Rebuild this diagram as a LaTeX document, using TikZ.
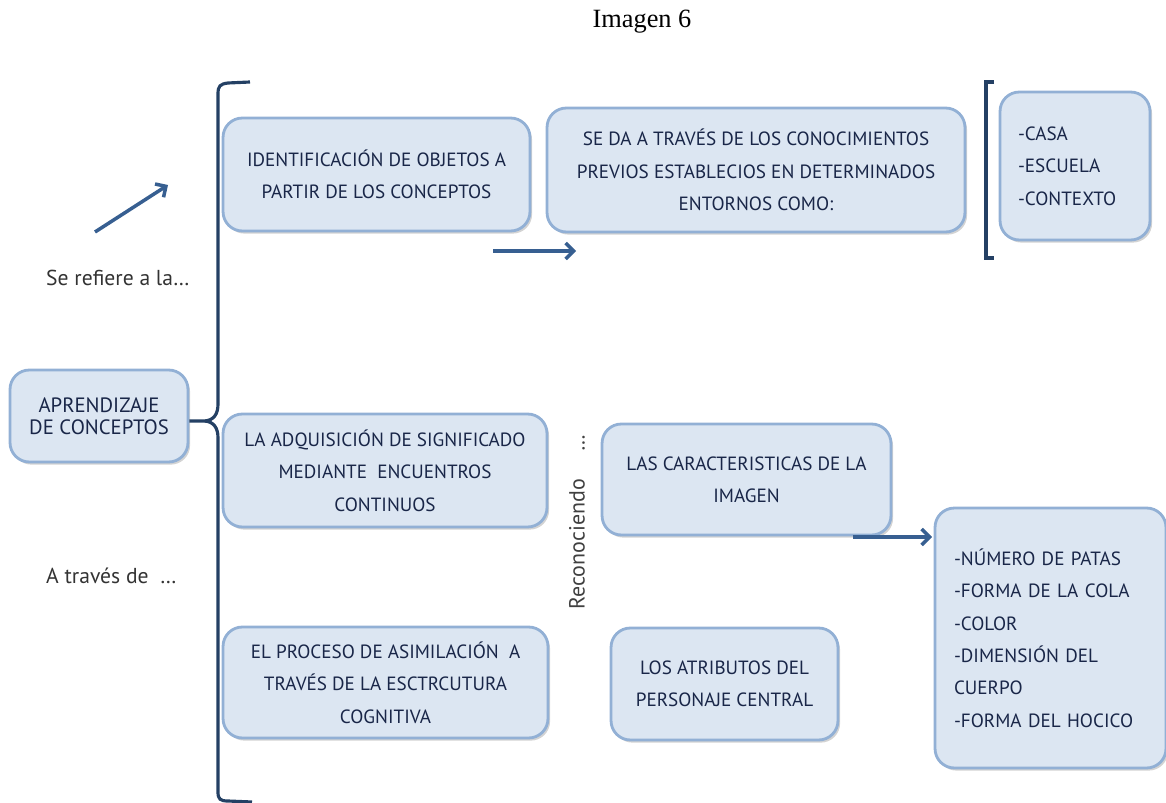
\documentclass[tikz,border=0pt]{standalone}
\usepackage{fontspec}
\usetikzlibrary{shadows,arrows.meta}
\newfontfamily\boxfont{PT Sans}
\newfontfamily\titlefont{Liberation Serif}
\definecolor{boxfill}{RGB}{220,230,242}
\definecolor{boxline}{RGB}{146,176,213}
\definecolor{boxtext}{RGB}{25,38,72}
\definecolor{arrowblue}{RGB}{55,95,145}
\definecolor{bracketblue}{RGB}{36,64,100}

\begin{document}
\begin{tikzpicture}[x=0.02cm, y=-0.02cm,
    concept/.style={draw=boxline, fill=boxfill, line width=1.6pt, rounded corners=11pt,
      align=center, text=boxtext, font=\boxfont\fontsize{10.9}{18.4}\selectfont,
      drop shadow={shadow xshift=1.2pt, shadow yshift=-1.5pt, opacity=0.35}},
    listbox/.style={concept, align=left},
    note/.style={font=\boxfont\fontsize{12.3}{14}\selectfont, text=black!80},
    link/.style={draw=arrowblue, line width=2pt, ->, >={Straight Barb[length=4.5pt, width=9pt, line width=2pt]}},
    bracket/.style={draw=bracketblue, line width=1.8pt}]
        \useasboundingbox (0, 0) rectangle (1166, 803);

        \node[font=\titlefont\fontsize{15}{18}\selectfont] (title) at (642, 22) {Imagen 6};

        \node[concept, minimum width=3.56cm, minimum height=1.84cm, font=\boxfont\fontsize{11.8}{12.5}\selectfont] (aprend) at (99, 416) {APRENDIZAJE\\DE CONCEPTOS};
        \node[concept, minimum width=6.14cm, minimum height=2.26cm] (ident) at (376.5, 174.5) {IDENTIFICACIÓN DE OBJETOS A\\PARTIR DE LOS CONCEPTOS};
        \node[concept, minimum width=8.36cm, minimum height=2.48cm] (seda) at (756, 170) {SE DA A TRAVÉS DE LOS CONOCIMIENTOS\\PREVIOS ESTABLECIOS EN DETERMINADOS\\ENTORNOS COMO:};
        \node[listbox, text width=2.28cm, inner xsep=0.36cm, minimum height=2.96cm] (casa) at (1075, 166) {-CASA\\-ESCUELA\\-CONTEXTO};
        \node[concept, minimum width=6.48cm, minimum height=2.26cm] (adq) at (385, 470.5) {LA ADQUISICIÓN DE SIGNIFICADO\\MEDIANTE \ ENCUENTROS\\CONTINUOS};
        \node[concept, minimum width=6.50cm, minimum height=2.22cm] (proc) at (385.5, 682.5) {EL PROCESO DE ASIMILACIÓN \ A\\TRAVÉS DE LA ESCTRCUTURA\\COGNITIVA};
        \node[concept, minimum width=5.78cm, minimum height=2.22cm] (carac) at (746.5, 479.5) {LAS CARACTERISTICAS DE LA\\IMAGEN};
        \node[concept, minimum width=4.54cm, minimum height=2.24cm] (atrib) at (724.5, 684) {LOS ATRIBUTOS DEL\\PERSONAJE CENTRAL};
        \node[listbox, text width=3.86cm, inner xsep=0.38cm, minimum height=5.20cm] (num) at (1050.5, 638) {-NÚMERO DE PATAS\\-FORMA DE LA COLA\\-COLOR\\-DIMENSIÓN DEL\\CUERPO\\-FORMA DEL HOCICO};

        \node[note, anchor=west] (refiere) at (40, 278) {Se refiere a la…};
        \node[note, anchor=west] (traves) at (40, 576) {A través de \ …};
        \node[note, rotate=90, font=\boxfont\fontsize{12.5}{14}\selectfont, text=black!75] (recon) at (577, 522) {Reconociendo \quad …};

        \coordinate (a1) at (95, 232);
        \coordinate (a2) at (168, 185);
        \coordinate (b1) at (493, 251);
        \coordinate (b2) at (576, 251);
        \coordinate (c1) at (853, 537);
        \coordinate (c2) at (932, 537);

        \draw[link] (a1) to (a2);
        \draw[link] (b1) to (b2);
        \draw[link] (c1) to (c2);

        \draw[bracket] (250, 82) -- (228, 83) .. controls (220, 84) and (218, 86) .. (218, 94)
          -- (218, 404) .. controls (218, 414) and (214, 420) .. (205, 421) -- (aprend.east |- 0, 421);
        \draw[bracket] (205, 421) .. controls (214, 422) and (218, 428) .. (218, 438)
          -- (218, 792) .. controls (218, 799) and (220, 801) .. (228, 801) -- (252, 802);
        \draw[bracket, line width=2.2pt] (994, 82) -- (986, 82) -- (986, 258) -- (994, 258);

      \end{tikzpicture}
\end{document}
